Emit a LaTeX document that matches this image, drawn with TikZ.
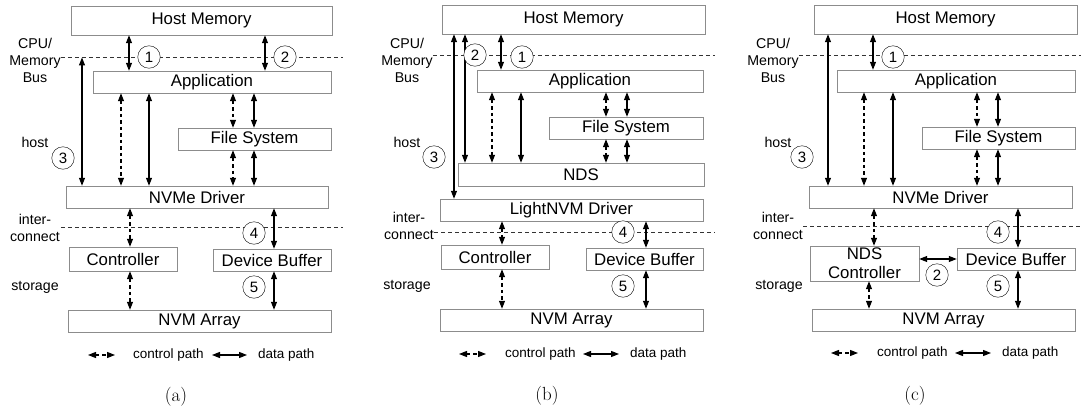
\documentclass[tikz,border=0pt]{standalone}
\usepackage{fontspec}
\newfontfamily\sansf{Liberation Sans}
\usepackage{tikz}
\usetikzlibrary{positioning, calc, arrows.meta}

\begin{document}
\begin{tikzpicture}[x=1pt, y=-1pt,
		blk/.style={draw=black!45, fill=white, minimum height=22pt, inner sep=0pt, align=center, font=\sansf\fontsize{16.8}{19}\selectfont},
		num/.style={circle, draw, fill=white, minimum size=22.5pt, inner sep=0pt, font=\sansf\fontsize{15}{15}\selectfont},
		side/.style={align=center, inner sep=0pt, font=\sansf\fontsize{14.2}{17}\selectfont},
		bus/.style={dash pattern=on 4pt off 3pt, black!80, line width=0.8pt},
		dat/.style={{Triangle[length=8pt,width=6pt]}-{Triangle[length=8pt,width=6pt]}, line width=1.1pt},
		ctl/.style={dat, dash pattern=on 3.5pt off 3pt},
		legend/.style={inner sep=0pt, anchor=west, font=\sansf\fontsize{13.5}{14}\selectfont},
		caption/.style={inner sep=0pt, font=\fontsize{19}{20}\selectfont}]

	\useasboundingbox (0,0) rectangle (1081,412);

	% (a)
	\node[side] (aBus) at (35,60) {CPU/\\Memory\\Bus};
	\node[side] (aHost) at (35,142) {host};
	\node[side] (aIc) at (35,228) {inter-\\connect};
	\node[side] (aSto) at (35,287) {storage};
	\draw[bus] (aBus.east |- 0,57.5) -- (343,57.5);
	\draw[bus] (aBus.east |- 0,227) -- (343,227);

	\node[blk, minimum width=261pt, minimum height=29pt] (aHM) at (201.5,20.5) {Host Memory};
	\node[blk, minimum width=238pt] (aApp) at (212,82) {Application};
	\node[blk, minimum width=153pt] (aFS) at (254.5,139) {File System};
	\node[blk, minimum width=262pt] (aDrv) at (197,197) {NVMe Driver};
	\node[blk, minimum width=108pt, minimum height=24pt] (aCtl) at (123,259) {Controller};
	\node[blk, minimum width=118pt] (aBuf) at (272,260) {Device Buffer};
	\node[blk, minimum width=263pt] (aNVM) at (199.5,321) {NVM Array};

	\coordinate (aTop3) at (82,57.5);
	\draw[dat] (129,0 |- aHM.south) -- (129,0 |- aApp.north);
	\draw[dat] (265,0 |- aHM.south) -- (265,0 |- aApp.north);
	\draw[dat] (aTop3) -- (aTop3 |- aDrv.north);
	\draw[ctl] (121,0 |- aApp.south) -- (121,0 |- aDrv.north);
	\draw[dat] (149,0 |- aApp.south) -- (149,0 |- aDrv.north);
	\draw[ctl] (233,0 |- aApp.south) -- (233,0 |- aFS.north);
	\draw[dat] (254,0 |- aApp.south) -- (254,0 |- aFS.north);
	\draw[ctl] (233,0 |- aFS.south) -- (233,0 |- aDrv.north);
	\draw[dat] (254,0 |- aFS.south) -- (254,0 |- aDrv.north);
	\draw[ctl] (130,0 |- aDrv.south) -- (130,0 |- aCtl.north);
	\draw[dat] (274,0 |- aDrv.south) -- (274,0 |- aBuf.north);
	\draw[ctl] (130,0 |- aCtl.south) -- (130,0 |- aNVM.north);
	\draw[dat] (274,0 |- aBuf.south) -- (274,0 |- aNVM.north);

	\node[num] (a1) at (149,57) {1};
	\node[num] (a2) at (285,57) {2};
	\node[num] (a3) at (63,158) {3};
	\node[num] (a4) at (254,233) {4};
	\node[num] (a5) at (254,287) {5};

	\coordinate (aLc0) at (88,355);
	\coordinate (aLc1) at (115,355);
	\node[legend] (aLc) at (133,355) {control path};
	\coordinate (aLd0) at (212,355);
	\coordinate (aLd1) at (247,355);
	\node[legend] (aLd) at (258,355) {data path};
	\draw[ctl] (aLc0) -- (aLc1);
	\draw[dat] (aLd0) -- (aLd1);
	\node[caption] (aCap) at (176,397) {(a)};

	% (b)
	\node[side] (bBus) at (407,60) {CPU/\\Memory\\Bus};
	\node[side] (bHost) at (407,142) {host};
	\node[side] (bIc) at (409,226) {inter-\\connect};
	\node[side] (bSto) at (407,286) {storage};
	\draw[bus] (bBus.east |- 0,55) -- (715,55);
	\draw[bus] (bIc.east |- 0,232) -- (715,232);

	\node[blk, minimum width=263pt, minimum height=29pt] (bHM) at (573.5,19.5) {Host Memory};
	\node[blk, minimum width=226pt] (bApp) at (590,81) {Application};
	\node[blk, minimum width=154pt] (bFS) at (626,128) {File System};
	\node[blk, minimum width=246pt, minimum height=23pt] (bNDS) at (581,174.5) {NDS};
	\node[blk, minimum width=263pt] (bDrv) at (571.5,210) {LightNVM Driver};
	\node[blk, minimum width=108pt, minimum height=24pt] (bCtl) at (495,257) {Controller};
	\node[blk, minimum width=117pt] (bBuf) at (644.5,259) {Device Buffer};
	\node[blk, minimum width=263pt] (bNVM) at (571.5,320) {NVM Array};

	\draw[dat] (501,0 |- bHM.south) -- (501,0 |- bApp.north);
	\draw[dat] (465,0 |- bHM.south) -- (465,0 |- bNDS.north);
	\draw[dat] (454,0 |- bHM.south) -- (454,0 |- bDrv.north);
	\draw[ctl] (492,0 |- bApp.south) -- (492,0 |- bNDS.north);
	\draw[dat] (521,0 |- bApp.south) -- (521,0 |- bNDS.north);
	\draw[ctl] (606,0 |- bApp.south) -- (606,0 |- bFS.north);
	\draw[dat] (627,0 |- bApp.south) -- (627,0 |- bFS.north);
	\draw[ctl] (606,0 |- bFS.south) -- (606,0 |- bNDS.north);
	\draw[dat] (627,0 |- bFS.south) -- (627,0 |- bNDS.north);
	\draw[ctl] (502,0 |- bDrv.south) -- (502,0 |- bCtl.north);
	\draw[dat] (646,0 |- bDrv.south) -- (646,0 |- bBuf.north);
	\draw[ctl] (502,0 |- bCtl.south) -- (502,0 |- bNVM.north);
	\draw[dat] (646,0 |- bBuf.south) -- (646,0 |- bNVM.north);

	\node[num] (b2) at (475,55) {2};
	\node[num] (b1) at (522,57) {1};
	\node[num] (b3) at (434,157) {3};
	\node[num] (b4) at (623,232) {4};
	\node[num] (b5) at (623,286) {5};

	\coordinate (bLc0) at (459,354);
	\coordinate (bLc1) at (486,354);
	\node[legend] (bLc) at (505,354) {control path};
	\coordinate (bLd0) at (583,354);
	\coordinate (bLd1) at (619,354);
	\node[legend] (bLd) at (630,354) {data path};
	\draw[ctl] (bLc0) -- (bLc1);
	\draw[dat] (bLd0) -- (bLd1);
	\node[caption] (bCap) at (547,396) {(b)};

	% (c)
	\node[side] (cBus) at (773,60) {CPU/\\Memory\\Bus};
	\node[side] (cHost) at (778,142) {host};
	\node[side] (cIc) at (778,226) {inter-\\connect};
	\node[side] (cSto) at (779,286) {storage};
	\draw[bus] (cBus.east |- 0,55) -- (1081,55);
	\draw[bus] (cIc.east |- 0,226) -- (1081,226);

	\node[blk, minimum width=263pt, minimum height=29pt] (cHM) at (945.5,19.5) {Host Memory};
	\node[blk, minimum width=238pt] (cApp) at (956,81) {Application};
	\node[blk, minimum width=153pt] (cFS) at (998.5,138) {File System};
	\node[blk, minimum width=263pt] (cDrv) at (940.5,197) {NVMe Driver};
	\node[blk, minimum width=109pt, minimum height=35pt] (cCtl) at (864.5,263.5) {NDS\\Controller};
	\node[blk, minimum width=118pt] (cBuf) at (1016,259) {Device Buffer};
	\node[blk, minimum width=263pt] (cNVM) at (943.5,320) {NVM Array};

	\draw[dat] (873,0 |- cHM.south) -- (873,0 |- cApp.north);
	\draw[dat] (828,0 |- cHM.south) -- (828,0 |- cDrv.north);
	\draw[ctl] (864,0 |- cApp.south) -- (864,0 |- cDrv.north);
	\draw[dat] (893,0 |- cApp.south) -- (893,0 |- cDrv.north);
	\draw[ctl] (977,0 |- cApp.south) -- (977,0 |- cFS.north);
	\draw[dat] (998,0 |- cApp.south) -- (998,0 |- cFS.north);
	\draw[ctl] (977,0 |- cFS.south) -- (977,0 |- cDrv.north);
	\draw[dat] (998,0 |- cFS.south) -- (998,0 |- cDrv.north);
	\draw[ctl] (874,0 |- cDrv.south) -- (874,0 |- cCtl.north);
	\draw[dat] (1018,0 |- cDrv.south) -- (1018,0 |- cBuf.north);
	\draw[ctl] (869,0 |- cCtl.south) -- (869,0 |- cNVM.north);
	\draw[dat] (1018,0 |- cBuf.south) -- (1018,0 |- cNVM.north);
	\draw[dat] (cCtl.east |- cBuf.west) -- (cBuf.west);

	\node[num] (c1) at (893,57) {1};
	\node[num] (c2) at (937,275) {2};
	\node[num] (c3) at (802,157) {3};
	\node[num] (c4) at (998,232) {4};
	\node[num] (c5) at (998,286) {5};

	\coordinate (cLc0) at (831,353);
	\coordinate (cLc1) at (858,353);
	\node[legend] (cLc) at (877,353) {control path};
	\coordinate (cLd0) at (955,353);
	\coordinate (cLd1) at (991,353);
	\node[legend] (cLd) at (1002,353) {data path};
	\draw[ctl] (cLc0) -- (cLc1);
	\draw[dat] (cLd0) -- (cLd1);
	\node[caption] (cCap) at (915,396) {(c)};
\end{tikzpicture}
\end{document}
